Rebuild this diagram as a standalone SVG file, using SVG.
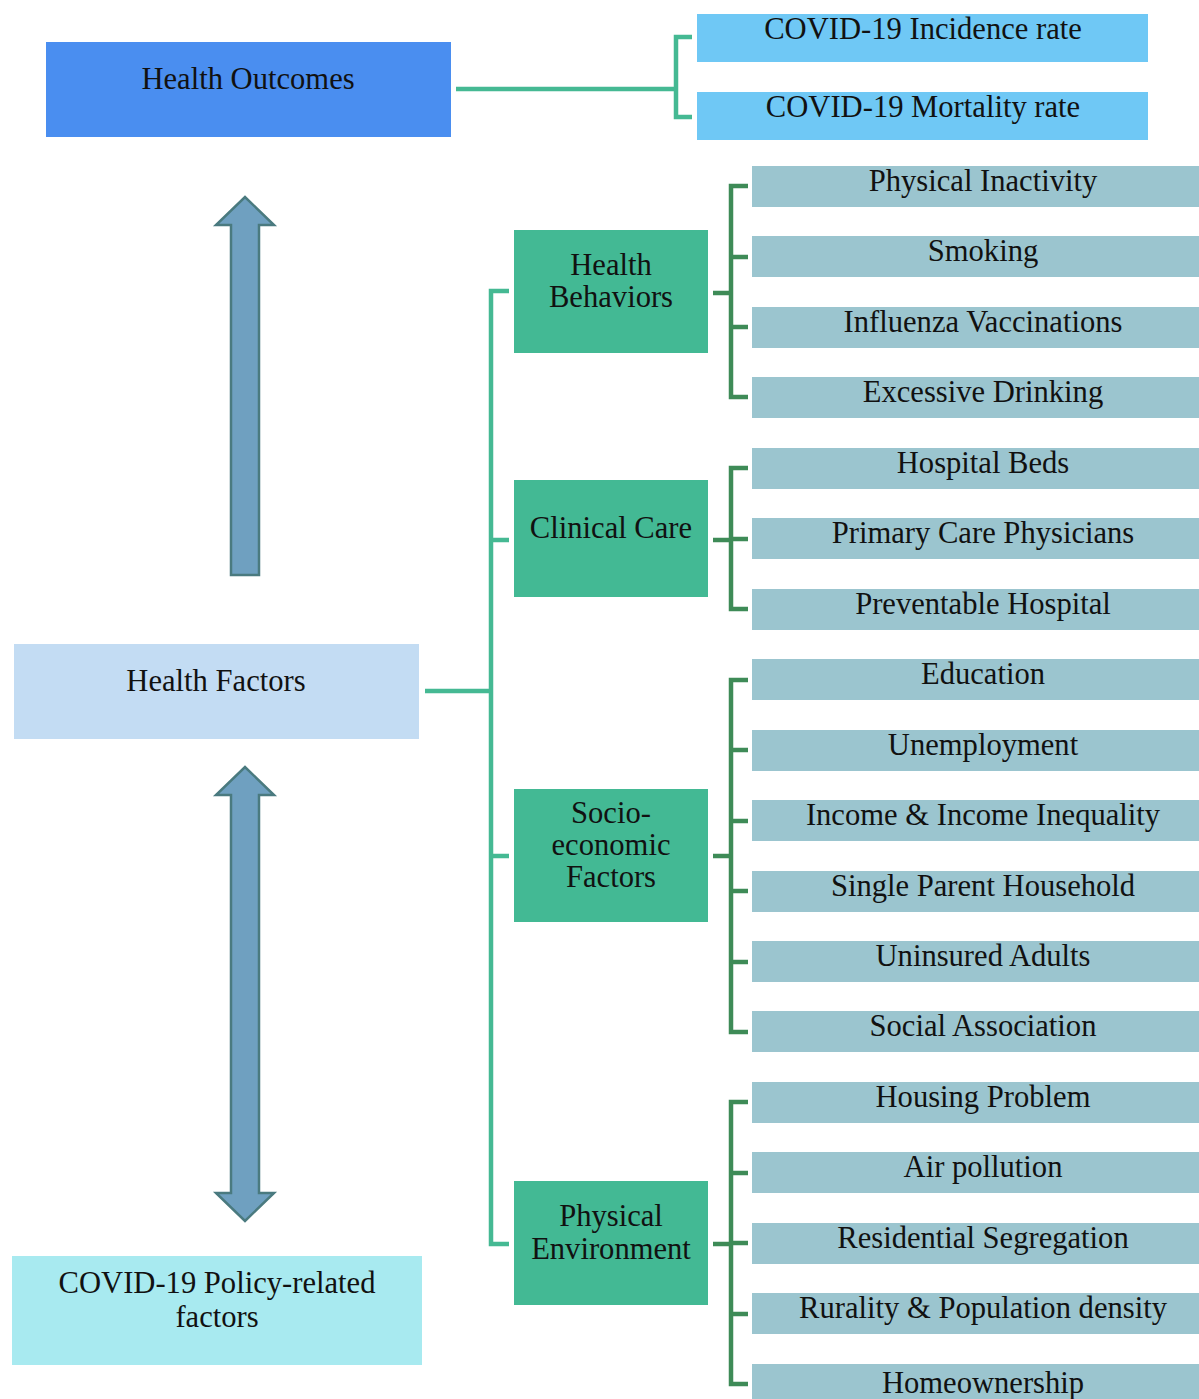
<svg xmlns="http://www.w3.org/2000/svg" width="1199" height="1399" viewBox="0 0 1199 1399">
<style>
text{font-family:"Liberation Serif","Times New Roman",serif;font-size:30.6px;fill:#111;text-anchor:middle}
.cat{fill:#43b994}
.item{fill:#9bc5cf}
.c1{fill:none;stroke:#45b993;stroke-width:4.5}
.c2{fill:none;stroke:#3e8b57;stroke-width:4.5}
.arr{fill:#6fa0c0;stroke:#4a7a7f;stroke-width:2.5;stroke-linejoin:miter}
</style>
<rect width="1199" height="1399" fill="#fff"/>
<g id="connectors">
<path class="c1" d="M456 89H676M692 37H676V117H692"/>
<path class="c1" d="M425 691H491M509 291H491V1244H509M491 540H509M491 856H509"/>
<path class="c2" d="M713 293H731M748 186H731V397H748M731 257H748M731 327H748"/>
<path class="c2" d="M713 540H731M748 468H731V609H748M731 539H748"/>
<path class="c2" d="M713 856H731M748 680H731V1032H748M731 750H748M731 821H748M731 891H748M731 962H748"/>
<path class="c2" d="M713 1244H731M748 1102H731V1384H748M731 1173H748M731 1243H748M731 1314H748"/>
</g>
<g id="arrow-up"><path class="arr" d="M231 575V225H216L245 197L274 225H259V575Z"/></g>
<g id="arrow-double"><path class="arr" d="M231 795H216L245 767L274 795H259V1193H274L245 1221L216 1193H231Z"/></g>
<g id="health-outcomes"><rect x="46" y="42" width="405" height="95" fill="#4a8ef0"/><text x="248" y="89">Health Outcomes</text></g>
<g id="incidence"><rect x="697" y="14" width="451" height="48" fill="#6fc8f5"/><text x="923" y="39">COVID-19 Incidence rate</text></g>
<g id="mortality"><rect x="697" y="92" width="451" height="48" fill="#6fc8f5"/><text x="923" y="117">COVID-19 Mortality rate</text></g>
<g id="health-factors"><rect x="14" y="644" width="405" height="95" fill="#c3dcf3"/><text x="216" y="691">Health Factors</text></g>
<g id="policy"><rect x="12" y="1256" width="410" height="109" fill="#a8eaf0"/><text x="217" y="1293">COVID-19 Policy-related</text><text x="217" y="1327">factors</text></g>
<g id="health-behaviors"><rect class="cat" x="514" y="230" width="194" height="123"/><text x="611" y="275">Health</text><text x="611" y="307">Behaviors</text></g>
<g id="clinical-care"><rect class="cat" x="514" y="480" width="194" height="117"/><text x="611" y="538">Clinical Care</text></g>
<g id="socio-economic"><rect class="cat" x="514" y="789" width="194" height="133"/><text x="611" y="823">Socio-</text><text x="611" y="855">economic</text><text x="611" y="887">Factors</text></g>
<g id="physical-environment"><rect class="cat" x="514" y="1181" width="194" height="124"/><text x="611" y="1226">Physical</text><text x="611" y="1259">Environment</text></g>
<g id="physical-inactivity"><rect class="item" x="752" y="166" width="447" height="41"/><text x="983" y="191">Physical Inactivity</text></g>
<g id="smoking"><rect class="item" x="752" y="236" width="447" height="41"/><text x="983" y="261">Smoking</text></g>
<g id="influenza"><rect class="item" x="752" y="307" width="447" height="41"/><text x="983" y="332">Influenza Vaccinations</text></g>
<g id="excessive-drinking"><rect class="item" x="752" y="377" width="447" height="41"/><text x="983" y="402">Excessive Drinking</text></g>
<g id="hospital-beds"><rect class="item" x="752" y="448" width="447" height="41"/><text x="983" y="473">Hospital Beds</text></g>
<g id="primary-care"><rect class="item" x="752" y="518" width="447" height="41"/><text x="983" y="543">Primary Care Physicians</text></g>
<g id="preventable-hospital"><rect class="item" x="752" y="589" width="447" height="41"/><text x="983" y="614">Preventable Hospital</text></g>
<g id="education"><rect class="item" x="752" y="659" width="447" height="41"/><text x="983" y="684">Education</text></g>
<g id="unemployment"><rect class="item" x="752" y="730" width="447" height="41"/><text x="983" y="755">Unemployment</text></g>
<g id="income"><rect class="item" x="752" y="800" width="447" height="41"/><text x="983" y="825">Income &amp; Income Inequality</text></g>
<g id="single-parent"><rect class="item" x="752" y="871" width="447" height="41"/><text x="983" y="896">Single Parent Household</text></g>
<g id="uninsured"><rect class="item" x="752" y="941" width="447" height="41"/><text x="983" y="966">Uninsured Adults</text></g>
<g id="social-association"><rect class="item" x="752" y="1011" width="447" height="41"/><text x="983" y="1036">Social Association</text></g>
<g id="housing"><rect class="item" x="752" y="1082" width="447" height="41"/><text x="983" y="1107">Housing Problem</text></g>
<g id="air-pollution"><rect class="item" x="752" y="1152" width="447" height="41"/><text x="983" y="1177">Air pollution</text></g>
<g id="residential"><rect class="item" x="752" y="1223" width="447" height="41"/><text x="983" y="1248">Residential Segregation</text></g>
<g id="rurality"><rect class="item" x="752" y="1293" width="447" height="41"/><text x="983" y="1318">Rurality &amp; Population density</text></g>
<g id="homeownership"><rect class="item" x="752" y="1364" width="447" height="41"/><text x="983" y="1393">Homeownership</text></g>
</svg>
